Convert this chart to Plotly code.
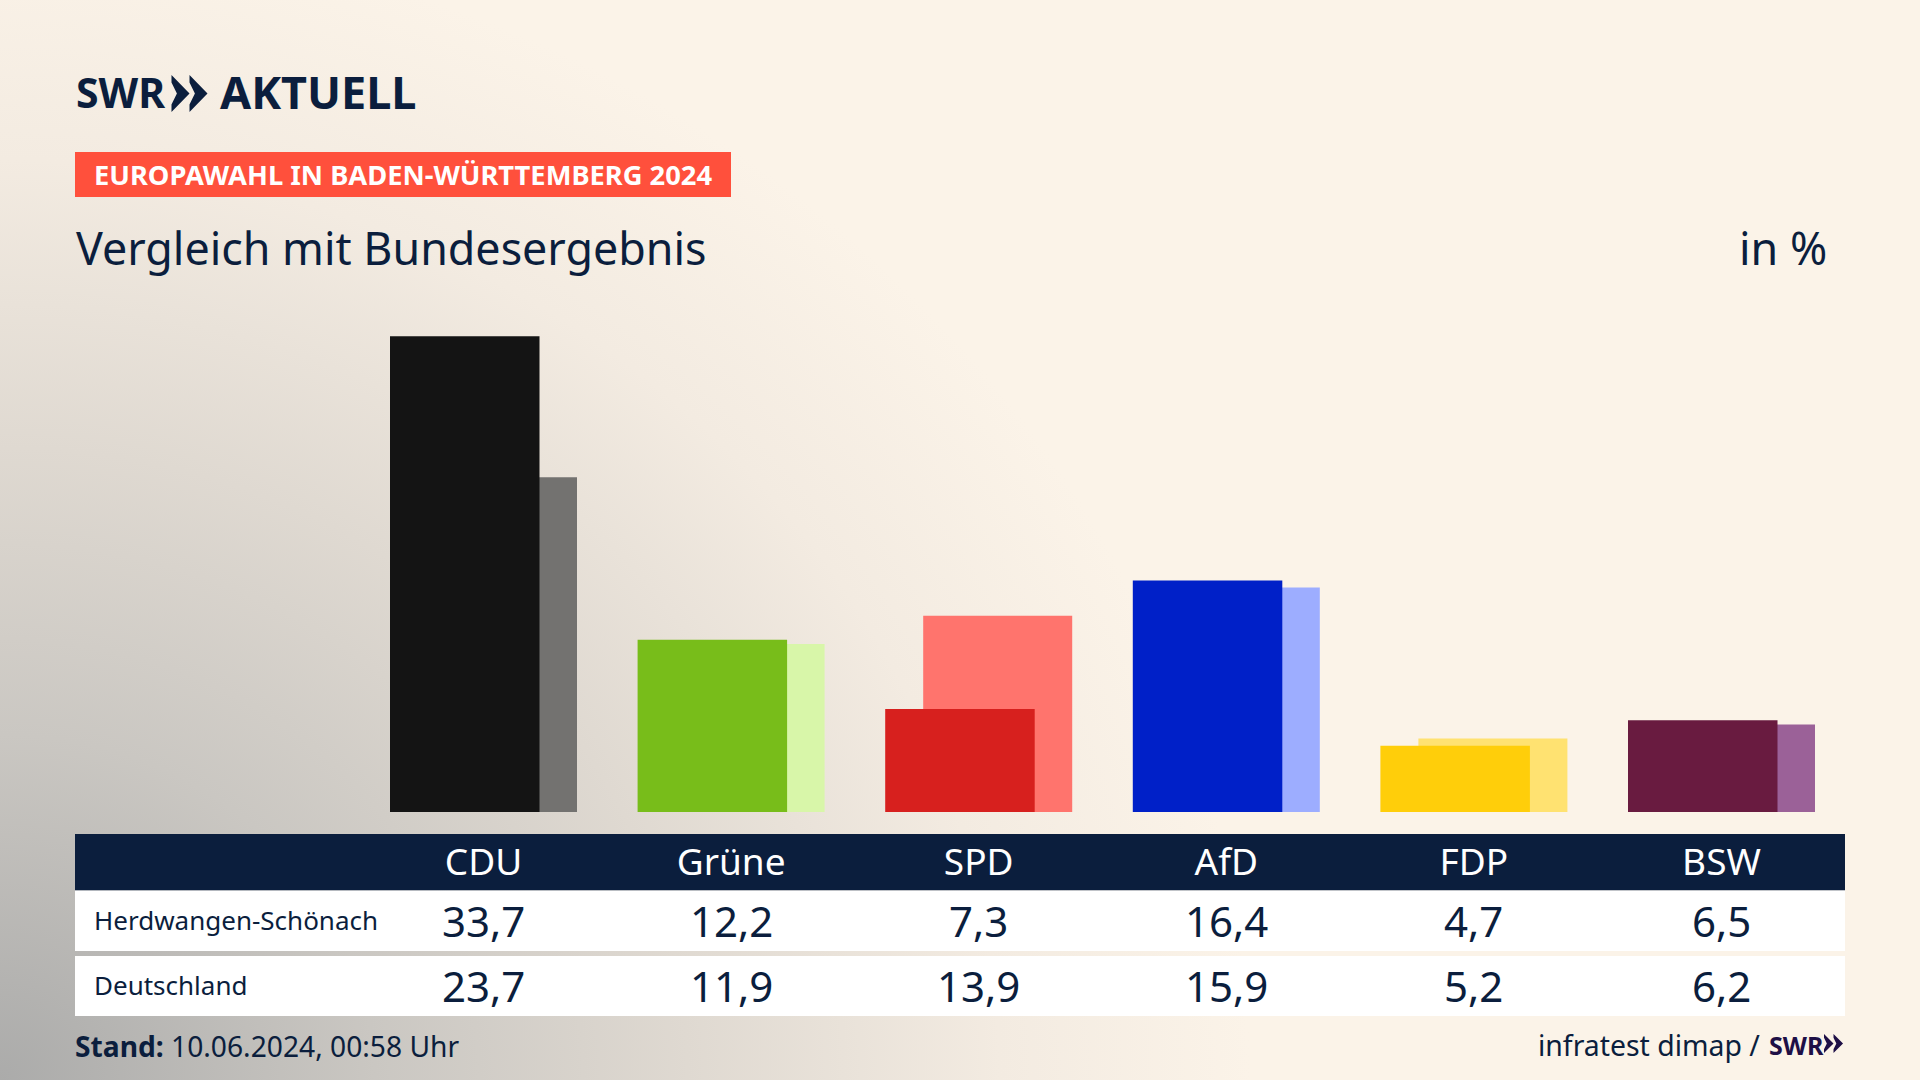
import base64
import plotly.graph_objects as go

# ---- data ----
parties = ["CDU", "Grüne", "SPD", "AfD", "FDP", "BSW"]
local_label = "Herdwangen-Schönach"
national_label = "Deutschland"
local_values = [33.7, 12.2, 7.3, 16.4, 4.7, 6.5]
national_values = [23.7, 11.9, 13.9, 15.9, 5.2, 6.2]
local_colors = ["#141414", "#78BD1A", "#D7201E", "#0020C8", "#FFCE0A", "#691B40"]
national_colors = ["#737270", "#D8F6A9", "#FF746D", "#9DADFF", "#FFE271", "#9B6198"]

W, H = 1920, 1080
NAVY = "#0B1E3D"
FONT = "Noto Sans"
CREAM = "#FBF3E8"

# ---- layout helpers (pixel positions on the 1920x1080 canvas) ----
px = lambda x: x / W
py = lambda y: 1 - y / H
UNIT_X = 247.6      # px per category
X0 = 483.5          # px of first category centre
UNIT_Y = 14.12      # px per percentage point
BASE = 812          # px of y = 0


def fmt(v):
    return f"{v:.1f}".replace(".", ",")


def label(text, x, y, size, color=NAVY, anchor="left", xref="paper", family=FONT):
    return dict(
        text=text,
        x=px(x) if xref == "paper" else x, y=py(y), xref=xref, yref="paper",
        xanchor=anchor, yanchor="middle", showarrow=False,
        font=dict(family=family, size=size, color=color),
    )


svg = f'''<svg xmlns="http://www.w3.org/2000/svg" width="{W}" height="{H}">
<defs><radialGradient id="g" gradientUnits="userSpaceOnUse" cx="0" cy="0" r="1"
 gradientTransform="translate(0 {H}) scale(1250 1150)">
<stop offset="0" stop-color="#ABABAA"/>
<stop offset="0.3" stop-color="#CAC7C2"/>
<stop offset="0.55" stop-color="#DFD9D1"/>
<stop offset="0.8" stop-color="#F3EBE1"/>
<stop offset="1" stop-color="{CREAM}"/>
</radialGradient></defs>
<rect width="{W}" height="{H}" fill="url(#g)"/></svg>'''
bg = "data:image/svg+xml;base64," + base64.b64encode(svg.encode()).decode()

fig = go.Figure()
fig.add_trace(go.Bar(
    x=parties, y=national_values, name=national_label,
    width=149 / UNIT_X, offset=(428 - X0) / UNIT_X,
    marker=dict(color=national_colors, line_width=0),
))
fig.add_trace(go.Bar(
    x=parties, y=local_values, name=local_label,
    width=149.5 / UNIT_X, offset=(390 - X0) / UNIT_X,
    marker=dict(color=local_colors, line_width=0),
))


def rect(x0, y0, x1, y1, color):
    return dict(type="rect", xref="paper", yref="paper", x0=px(x0), x1=px(x1),
                y0=py(y1), y1=py(y0), fillcolor=color, line_width=0, layer="below")


def poly(points, color):
    d = "M" + " L".join(f"{px(x):.5f},{py(y):.5f}" for x, y in points) + " Z"
    return dict(type="path", xref="paper", yref="paper", path=d, fillcolor=color, line_width=0)


def chevrons(x, y, w, h, color):
    # two arrowheads in the box (x, y, w, h)
    cw = w * 0.50
    out = []
    for dx in (0, w - cw):
        out.append(poly([(x + dx, y), (x + dx + cw, y + h / 2), (x + dx, y + h),
                         (x + dx, y + h * 0.80), (x + dx + cw * 0.30, y + h / 2),
                         (x + dx, y + h * 0.20)], color))
    return out


shapes = [
    rect(75, 152, 731, 197, "#FF503C"),
    rect(75, 834, 1845, 890.5, NAVY),
    rect(75, 890.5, 1845, 951, "#FFFFFF"),
    rect(75, 956, 1845, 1016, "#FFFFFF"),
]
shapes += chevrons(171.5, 75, 36, 37, NAVY)
shapes += chevrons(1824, 1034, 19, 19, "#1E0F46")

annotations = [
    label("<b>SWR</b>", 74, 92, 41),
    label("<b>AKTUELL</b>", 218, 92, 45),
    label("<b>EUROPAWAHL IN BADEN-WÜRTTEMBERG 2024</b>", 92, 174.5, 27.3, color="#FFFFFF"),
    label("Vergleich mit Bundesergebnis", 74, 247, 44.8),
    label("in %", 1829, 247, 44.8, anchor="right"),
    label(local_label, 92, 920, 26),
    label(national_label, 92, 985, 26),
    label("<b>Stand:</b> 10.06.2024, 00:58 Uhr", 73, 1046, 28.2),
    label("infratest dimap /", 1762, 1045, 28.4, anchor="right"),
    label("<b>SWR</b>", 1767, 1045, 25, color="#1E0F46"),
]

for party, lv, nv in zip(parties, local_values, national_values):
    annotations.append(label(fmt(lv), party, 920, 42, anchor="center", xref="x"))
    annotations.append(label(fmt(nv), party, 985, 42, anchor="center", xref="x"))

fig.update_layout(
    width=W, height=H, autosize=False,
    margin=dict(l=0, r=0, t=0, b=0, pad=0),
    barmode="overlay",
    showlegend=False,
    paper_bgcolor=CREAM, plot_bgcolor="rgba(0,0,0,0)",
    font=dict(family=FONT, color=NAVY),
    shapes=shapes, annotations=annotations,
    images=[dict(source=bg, xref="paper", yref="paper", x=0, y=1, sizex=1, sizey=1,
                 xanchor="left", yanchor="top", sizing="stretch", layer="below")],
    xaxis=dict(
        type="category", categoryorder="array", categoryarray=parties,
        range=[-X0 / UNIT_X, (W - X0) / UNIT_X], domain=[0, 1],
        anchor="free", position=py(826),
        tickfont=dict(family=FONT, size=37, color="#FFFFFF"),
        ticks="outside", ticklen=4, tickcolor="rgba(0,0,0,0)",
        showgrid=False, zeroline=False, showline=False, automargin=False, fixedrange=True,
    ),
    yaxis=dict(
        range=[-(H - BASE) / UNIT_Y, BASE / UNIT_Y], domain=[0, 1],
        visible=False, showgrid=False, zeroline=False, automargin=False, fixedrange=True,
    ),
)

fig.write_html(
    "out.html",
    config={"displayModeBar": False},
    post_script="document.body.style.margin='0';document.body.style.overflow='hidden';",
)
